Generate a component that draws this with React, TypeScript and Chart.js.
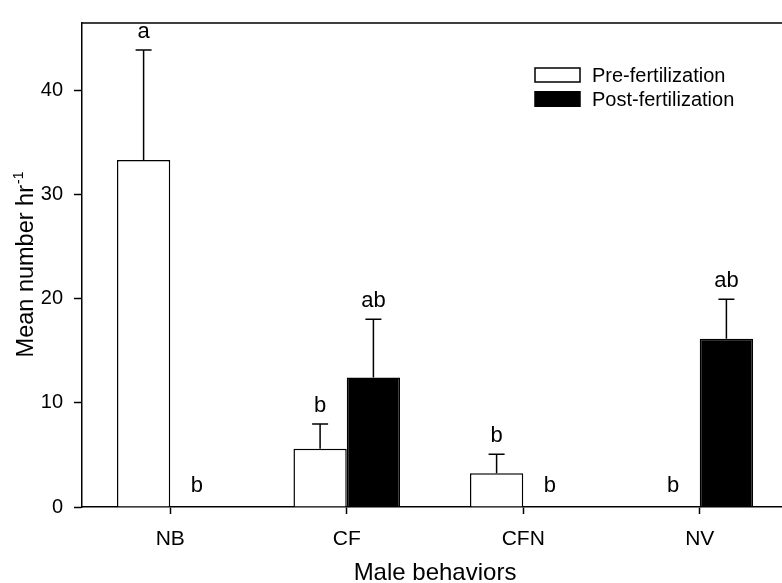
import React, { useEffect, useRef } from "react";
import { Chart, registerables } from "chart.js";

Chart.register(...registerables);

const categories = ["NB", "CF", "CFN", "NV"];
const preMeans = [33.34, 5.59, 3.25, 0];
const preErrors = [10.56, 2.38, 1.81, 0];
const postMeans = [0, 12.45, 0, 16.16];
const postErrors = [0, 5.58, 0, 3.81];
const preLetters = ["a", "b", "b", "b"];
const postLetters = ["b", "ab", "b", "ab"];
const yTickValues = [0, 10, 20, 30, 40];
const yMax = 46.5;
const seriesNames = ["Pre-fertilization", "Post-fertilization"];
const xTitle = "Male behaviors";
const yTitleMain = "Mean number hr";
const yTitleSup = "-1";

const FONT = "'Liberation Sans', Arial, Helvetica, sans-serif";

const decorPlugin = {
  id: "decor",
  afterDatasetsDraw(chart: any) {
    const ctx = chart.ctx as CanvasRenderingContext2D;
    const { left, right, top, bottom } = chart.chartArea;
    const y = chart.scales.y;
    ctx.save();
    ctx.strokeStyle = "#000";
    ctx.fillStyle = "#000";
    ctx.lineWidth = 1.5;
    // frame top & right
    ctx.beginPath();
    ctx.moveTo(left, top);
    ctx.lineTo(right, top);
    ctx.lineTo(right, bottom);
    ctx.stroke();

    const sets = [
      { means: preMeans, errs: preErrors, letters: preLetters },
      { means: postMeans, errs: postErrors, letters: postLetters },
    ];
    sets.forEach((s, di) => {
      const meta = chart.getDatasetMeta(di);
      meta.data.forEach((bar: any, i: number) => {
        const x = bar.x;
        const yTop = y.getPixelForValue(s.means[i]);
        let base: number;
        if (s.errs[i] > 0) {
          const yErr = y.getPixelForValue(s.means[i] + s.errs[i]);
          ctx.beginPath();
          ctx.moveTo(x, yTop);
          ctx.lineTo(x, yErr);
          ctx.moveTo(x - 8, yErr);
          ctx.lineTo(x + 8, yErr);
          ctx.stroke();
          base = yErr - 12;
        } else {
          base = yTop - 15;
        }
        ctx.font = `22px ${FONT}`;
        ctx.textAlign = "center";
        ctx.textBaseline = "alphabetic";
        ctx.fillText(s.letters[i], x, base);
      });
    });

    // legend
    const lx = 535;
    const rows = [75, 99];
    ctx.font = `20px ${FONT}`;
    ctx.textAlign = "left";
    ctx.textBaseline = "middle";
    rows.forEach((cy, i) => {
      if (i === 0) {
        ctx.fillStyle = "#fff";
        ctx.fillRect(lx, cy - 7, 45, 14);
        ctx.strokeRect(lx, cy - 7, 45, 14);
      } else {
        ctx.fillStyle = "#000";
        ctx.fillRect(lx - 0.75, cy - 8, 46.5, 16);
      }
      ctx.fillStyle = "#000";
      ctx.fillText(seriesNames[i], 592, cy + 1);
    });

    // x title
    ctx.font = `24px ${FONT}`;
    ctx.textAlign = "center";
    ctx.textBaseline = "alphabetic";
    ctx.fillText(xTitle, (left + right) / 2, 580);

    // y title with superscript
    ctx.translate(33, (top + bottom) / 2);
    ctx.rotate(-Math.PI / 2);
    ctx.font = `23.5px ${FONT}`;
    const w = ctx.measureText(yTitleMain).width;
    ctx.font = `14px ${FONT}`;
    const ws = ctx.measureText(yTitleSup).width;
    const start = -(w + ws) / 2;
    ctx.textAlign = "left";
    ctx.font = `23.5px ${FONT}`;
    ctx.fillText(yTitleMain, start, 0);
    ctx.font = `14px ${FONT}`;
    ctx.fillText(yTitleSup, start + w + 1, -10);
    ctx.restore();
  },
};

export default function App() {
  const ref = useRef<HTMLCanvasElement | null>(null);
  useEffect(() => {
    if (!ref.current) return;
    const chart = new Chart(ref.current, {
      type: "bar",
      data: {
        labels: categories,
        datasets: [
          {
            label: seriesNames[0],
            data: preMeans,
            backgroundColor: "#ffffff",
            borderColor: "#000000",
            borderWidth: 1.5,
          },
          {
            label: seriesNames[1],
            data: postMeans,
            backgroundColor: "#000000",
            borderColor: "#000000",
            borderWidth: 1.5,
          },
        ],
      },
      options: {
        animation: false,
        responsive: false,
        devicePixelRatio: 1,
        layout: { padding: { top: 12, left: 0, right: 2, bottom: 0 } },
        plugins: { legend: { display: false }, tooltip: { enabled: false } },
        datasets: { bar: { categoryPercentage: 0.604, barPercentage: 1 } },
        scales: {
          x: {
            type: "category",
            offset: true,
            grid: {
              offset: false,
              drawOnChartArea: false,
              drawTicks: true,
              tickLength: 7,
              tickWidth: 1.5,
              color: "#000",
            },
            border: { display: true, color: "#000", width: 1.5 },
            ticks: {
              color: "#000",
              font: { family: FONT, size: 21 },
              padding: 13,
              maxRotation: 0,
            },
            afterFit(scale: any) {
              scale.height = 76;
            },
          },
          y: {
            min: 0,
            max: yMax,
            grid: {
              drawOnChartArea: false,
              drawTicks: true,
              tickLength: 8,
              tickWidth: 1.5,
              color: "#000",
            },
            border: { display: true, color: "#000", width: 1.5 },
            ticks: {
              stepSize: 10,
              color: "#000",
              font: { family: FONT, size: 20 },
              padding: 11,
            },
            afterBuildTicks(scale: any) {
              scale.ticks = yTickValues.map((v) => ({ value: v }));
            },
            afterFit(scale: any) {
              scale.width = 82;
            },
          },
        },
      },
      plugins: [decorPlugin],
    } as any);
    return () => chart.destroy();
  }, []);
  return (
    <div
      style={{
        position: "fixed",
        left: 0,
        top: 0,
        width: 782,
        height: 583,
        overflow: "hidden",
        background: "#fff",
      }}
    >
      <canvas ref={ref} width={790} height={583} style={{ display: "block", width: 790, height: 583 }} />
    </div>
  );
}
